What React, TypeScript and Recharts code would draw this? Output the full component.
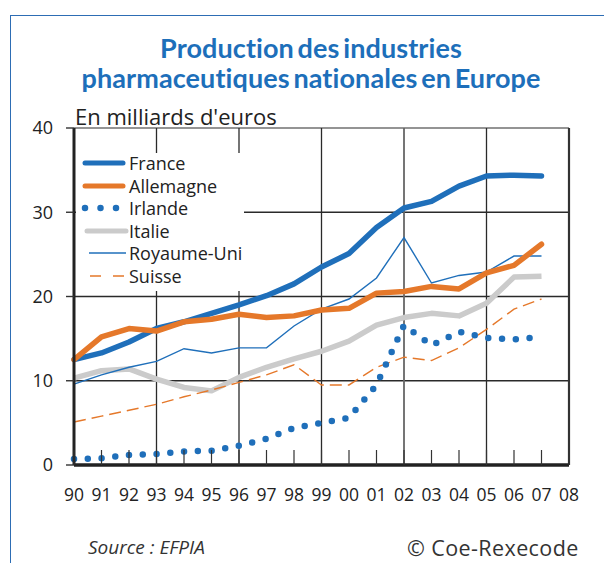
import React from "react";
import { LineChart, Line, XAxis, YAxis, ReferenceLine, Legend } from "recharts";

const years = [1990, 1991, 1992, 1993, 1994, 1995, 1996, 1997, 1998, 1999, 2000, 2001, 2002, 2003, 2004, 2005, 2006, 2007];
const france = [12.5, 13.3, 14.6, 16.2, 17.0, 18.0, 19.0, 20.1, 21.5, 23.5, 25.1, 28.2, 30.5, 31.3, 33.1, 34.3, 34.4, 34.3];
const allemagne = [12.5, 15.2, 16.2, 15.9, 17.0, 17.3, 17.9, 17.5, 17.7, 18.4, 18.6, 20.4, 20.6, 21.2, 20.9, 22.8, 23.7, 26.2];
const irlande = [0.7, 0.8, 1.2, 1.3, 1.6, 1.7, 2.3, 3.1, 4.4, 5.0, 5.6, 9.5, 16.6, 14.2, 15.8, 15.1, 14.9, 15.2];
const italie = [10.3, 11.2, 11.4, 10.2, 9.2, 8.8, 10.4, 11.6, 12.6, 13.5, 14.7, 16.6, 17.5, 18.0, 17.7, 19.2, 22.3, 22.4];
const royaumeUni = [9.6, 10.7, 11.6, 12.3, 13.8, 13.3, 13.9, 13.9, 16.5, 18.5, 19.7, 22.2, 27.0, 21.6, 22.5, 22.9, 24.8, 24.8];
const suisse = [5.1, 5.8, 6.5, 7.2, 8.1, 8.9, 9.8, 10.7, 11.9, 9.5, 9.5, 11.6, 12.8, 12.4, 13.9, 16.1, 18.5, 19.7];

const xTicks = [1990, 1991, 1992, 1993, 1994, 1995, 1996, 1997, 1998, 1999, 2000, 2001, 2002, 2003, 2004, 2005, 2006, 2007, 2008];
const xGrid = [1993, 1996, 1999, 2002, 2005];
const yTicks = [0, 10, 20, 30, 40];
const yGrid = [10, 20, 30];

const title1 = "Production des industries";
const title2 = "pharmaceutiques nationales en Europe";
const unitLabel = "En milliards d'euros";
const sourceText = "Source : EFPIA";
const copyText = "© Coe-Rexecode";

const BLUE = "#1f6fba";
const ORANGE = "#e5782a";
const GRAY = "#cbcbcb";
const FONT = "'Open Sans', sans-serif";

const data = years.map((y, i) => ({
  year: y,
  france: france[i],
  allemagne: allemagne[i],
  irlande: irlande[i],
  italie: italie[i],
  royaumeUni: royaumeUni[i],
  suisse: suisse[i],
}));

const legendItems = [
  { name: "France", color: BLUE, width: 5, dash: undefined as string | undefined, cap: "round", x1: 9, x2: 47 },
  { name: "Allemagne", color: ORANGE, width: 5, dash: undefined, cap: "round", x1: 9, x2: 47 },
  { name: "Irlande", color: BLUE, width: 6.5, dash: "0 15.5", cap: "round", x1: 9, x2: 44 },
  { name: "Italie", color: GRAY, width: 5, dash: undefined, cap: "round", x1: 11, x2: 50 },
  { name: "Royaume-Uni", color: BLUE, width: 1.4, dash: undefined, cap: "butt", x1: 13, x2: 50 },
  { name: "Suisse", color: ORANGE, width: 1.4, dash: "11 12", cap: "butt", x1: 14, x2: 50 },
];

const LegendBox = () => (
  <div style={{ background: "#fff", width: 168, height: 138, position: "relative" }}>
    {legendItems.map((it, i) => (
      <div key={it.name} style={{ position: "absolute", left: 0, top: -1 + i * 22.6, height: 22, width: 168 }}>
        <svg width={54} height={22} style={{ position: "absolute", left: 0, top: 0 }}>
          <line x1={it.x1} x2={it.x2} y1={11} y2={11} stroke={it.color} strokeWidth={it.width}
            strokeDasharray={it.dash} strokeLinecap={it.cap as any} />
        </svg>
        <span style={{ position: "absolute", left: 53, top: 0, lineHeight: "22px", fontSize: 18, fontFamily: FONT, color: "#222", whiteSpace: "nowrap" }}>
          {it.name}
        </span>
      </div>
    ))}
  </div>
);

const XTick = (props: any) => {
  const { x, y, payload } = props;
  const v = payload.value as number;
  const lbl = String(v % 100).padStart(2, "0");
  return (
    <g>
      <line x1={x} x2={x} y1={y} y2={y - 15} stroke="#333" strokeWidth={1.2} />
      <text x={x} y={y + 29} textAnchor="middle" dominantBaseline="central" fontSize={17.5} fontFamily={FONT} fill="#222">
        {lbl}
      </text>
    </g>
  );
};

export default function App() {
  return (
    <div style={{ position: "absolute", left: 0, top: 0, width: 604, height: 563, background: "#fff", overflow: "hidden" }}>
      <div style={{ position: "absolute", left: 10, top: 15, width: 594, height: 0, borderTop: "1.5px solid #2d6db4" }} />
      <div style={{ position: "absolute", left: 10, top: 15, width: 0, height: 548, borderLeft: "1.5px solid #2d6db4" }} />
      <div style={{ position: "absolute", left: 0, top: 33, width: 622, textAlign: "center", fontFamily: "Lato, sans-serif", fontWeight: 700, fontSize: 27, lineHeight: "30px", color: "#1d6fba", letterSpacing: 0.1, wordSpacing: -3 }}>
        {title1}<br />{title2}
      </div>
      <div style={{ position: "absolute", left: 75, top: 101, fontFamily: FONT, fontSize: 22, lineHeight: "30px", color: "#222", whiteSpace: "nowrap" }}>
        {unitLabel}
      </div>
      <LineChart width={604} height={563} data={data} margin={{ top: 128, right: 35, bottom: 68, left: 34 }}
        style={{ position: "absolute", left: 0, top: 0 }}>
        {yGrid.map((v) => (
          <ReferenceLine key={"h" + v} y={v} stroke="#2a2a2a" strokeWidth={1.3} />
        ))}
        <ReferenceLine y={40} stroke="#2a2a2a" strokeWidth={1.2} />
        {xGrid.map((v) => (
          <ReferenceLine key={"v" + v} x={v} stroke={v === 2002 ? "#666" : "#2a2a2a"} strokeWidth={v === 2002 ? 1.8 : 1.3} />
        ))}
        <ReferenceLine x={2008} stroke="#333" strokeWidth={2.2} />
        <XAxis dataKey="year" type="number" domain={[1990, 2008]} ticks={xTicks} interval={0}
          height={30} tickSize={0} tickMargin={0} tick={<XTick />} axisLine={{ stroke: "#222", strokeWidth: 3.5 }} tickLine={false} />
        <YAxis type="number" domain={[0, 40]} ticks={yTicks} width={40} tickSize={8} tickMargin={13}
          axisLine={{ stroke: "#222", strokeWidth: 3 }} tickLine={{ stroke: "#333", strokeWidth: 1.4 }}
          tick={{ fontSize: 18, fontFamily: FONT, fill: "#222" }} />
        <Legend layout="vertical" align="center" verticalAlign="middle" content={() => <LegendBox />}
          wrapperStyle={{ position: "absolute", left: 76, top: 153, width: 168, height: 138 }} />
        <Line dataKey="italie" name="Italie" stroke={GRAY} strokeWidth={5.5} dot={false} isAnimationActive={false} strokeLinejoin="round" />
        <Line dataKey="suisse" name="Suisse" stroke={ORANGE} strokeWidth={1.4} strokeDasharray="12 6" dot={false} isAnimationActive={false} />
        <Line dataKey="royaumeUni" name="Royaume-Uni" stroke={BLUE} strokeWidth={1.4} dot={false} isAnimationActive={false} />
        <Line dataKey="irlande" name="Irlande" stroke={BLUE} strokeWidth={6.5} strokeDasharray="0 13.8" strokeLinecap="round" dot={false} isAnimationActive={false} />
        <Line dataKey="france" name="France" stroke={BLUE} strokeWidth={5.5} dot={false} isAnimationActive={false} strokeLinecap="round" strokeLinejoin="round" />
        <Line dataKey="allemagne" name="Allemagne" stroke={ORANGE} strokeWidth={5.5} dot={false} isAnimationActive={false} strokeLinecap="round" strokeLinejoin="round" />
      </LineChart>
      <div style={{ position: "absolute", left: 88, top: 535, fontFamily: FONT, fontStyle: "italic", fontSize: 19, lineHeight: "24px", color: "#333", whiteSpace: "nowrap" }}>
        {sourceText}
      </div>
      <div style={{ position: "absolute", left: 407, top: 536, fontFamily: FONT, fontSize: 21.5, lineHeight: "24px", letterSpacing: 0.4, color: "#333", whiteSpace: "nowrap" }}>
        {copyText}
      </div>
    </div>
  );
}
